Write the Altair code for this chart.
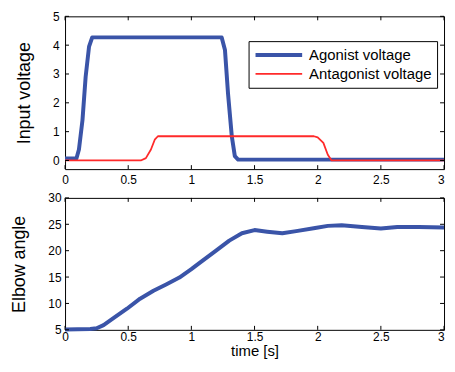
import altair as alt
import pandas as pd

# ---------------- data ----------------
series_names = ["Agonist voltage", "Antagonist voltage"]

t_agonist = [0, 0.09, 0.11, 0.138, 0.163, 0.19, 0.215, 0.6, 1.0, 1.24, 1.266, 1.29, 1.32, 1.344, 1.37, 2.0, 3.0]
v_agonist = [0.07, 0.07, 0.38, 1.4, 2.9, 3.95, 4.27, 4.27, 4.27, 4.27, 3.83, 2.33, 0.84, 0.15, 0.03, 0.03, 0.03]

t_antagonist = [0, 0.6, 0.64, 0.68, 0.71, 0.735, 1.3, 1.97, 2.0, 2.045, 2.08, 2.11, 3.0]
v_antagonist = [0, 0, 0.08, 0.38, 0.72, 0.84, 0.84, 0.84, 0.8, 0.61, 0.2, 0, 0]

t_elbow = [0, 0.1, 0.2, 0.25, 0.305, 0.383, 0.49, 0.594, 0.7, 0.8, 0.905, 1.0, 1.06,
           1.19, 1.3, 1.4, 1.5, 1.6, 1.72, 1.83, 1.98, 2.08, 2.19, 2.35, 2.5, 2.63, 2.8, 3.0]
v_elbow = [5.05, 5.1, 5.15, 5.3, 5.9, 7.2, 9.0, 10.9, 12.4, 13.6, 14.9, 16.5, 17.6,
           19.9, 21.9, 23.3, 23.9, 23.6, 23.3, 23.7, 24.3, 24.7, 24.8, 24.5, 24.2, 24.5, 24.5, 24.4]

x_ticks = [0, 0.5, 1, 1.5, 2, 2.5, 3]
y_ticks_top = [0, 1, 2, 3, 4, 5]
y_ticks_bottom = [5, 10, 15, 20, 25, 30]

# ---------------- style ----------------
BLUE = "#3a54a8"
RED = "#ff2a2a"
FONT = "Liberation Sans"
W = 382
H_TOP = 154
H_BOT = 133
TICK = 4

top_df = pd.concat([
    pd.DataFrame({"t": t_agonist, "v": v_agonist, "series": series_names[0]}),
    pd.DataFrame({"t": t_antagonist, "v": v_antagonist, "series": series_names[1]}),
], ignore_index=True)
elbow_df = pd.DataFrame({"t": t_elbow, "v": v_elbow})
xt_df = pd.DataFrame({"t": x_ticks})
yt_top_df = pd.DataFrame({"v": y_ticks_top})
yt_bot_df = pd.DataFrame({"v": y_ticks_bottom})

xs = alt.Scale(domain=[0, 3], nice=False, zero=False)
ys_top = alt.Scale(domain=[-0.3, 5], nice=False, zero=False)
ys_bot = alt.Scale(domain=[5, 30], nice=False, zero=False)

x_label_align = {"condition": {"test": "datum.value >= 3", "value": "right"}, "value": "center"}


def x_axis(title=None, pad=5):
    kw = dict(values=x_ticks, ticks=False, domain=False, grid=False, format="~g",
              labelFont=FONT, labelFontSize=12, labelColor="black", labelPadding=pad,
              labelFlush=False, labelOverlap=False, labelAlign=x_label_align)
    if title:
        kw.update(title=title, titleFont=FONT, titleFontSize=15, titleFontWeight="normal",
                  titleColor="black", titlePadding=1)
    else:
        kw.update(title=None)
    return alt.Axis(**kw)


def y_axis(values, title, title_x, pad):
    return alt.Axis(values=values, ticks=False, domain=False, grid=False, format="d",
                    labelFont=FONT, labelFontSize=12, labelColor="black", labelPadding=pad,
                    labelFlush=False, labelOverlap=False, labelBound=False,
                    title=title, titleFont=FONT, titleFontSize=18, titleFontWeight="normal",
                    titleColor="black", titleX=title_x, titleBaseline="middle")


legend_kw = dict(orient="none", legendX=185, legendY=25, title=None,
                 symbolType="stroke", symbolSize=2209, clipHeight=18,
                 labelFont=FONT, labelFontSize=15, labelColor="black", labelOffset=5,
                 padding=5, rowPadding=1, strokeColor="black", fillColor="white",
                 cornerRadius=0)


def panel(lines, yt_df, ys, h, xax, yax):
    xb = alt.Chart(xt_df).mark_rule(color="black", strokeWidth=1).encode(
        x=alt.X("t:Q", scale=xs, axis=xax), y=alt.value(h), y2=alt.value(h - TICK))
    xtp = alt.Chart(xt_df).mark_rule(color="black", strokeWidth=1).encode(
        x=alt.X("t:Q", scale=xs, axis=xax), y=alt.value(0), y2=alt.value(TICK))
    yl = alt.Chart(yt_df).mark_rule(color="black", strokeWidth=1).encode(
        y=alt.Y("v:Q", scale=ys, axis=yax), x=alt.value(0), x2=alt.value(TICK))
    yr = alt.Chart(yt_df).mark_rule(color="black", strokeWidth=1).encode(
        y=alt.Y("v:Q", scale=ys, axis=yax), x=alt.value(W), x2=alt.value(W - TICK))
    return alt.layer(lines, xb, xtp, yl, yr).properties(width=W, height=h)


xax_top = x_axis(pad=5)
yax_top = y_axis(y_ticks_top, "Input voltage", -41, 6)
lines_top = alt.Chart(top_df).mark_line(strokeJoin="round").encode(
    x=alt.X("t:Q", scale=xs, axis=xax_top),
    y=alt.Y("v:Q", scale=ys_top, axis=yax_top),
    color=alt.Color("series:N", scale=alt.Scale(domain=series_names, range=[BLUE, RED]),
                    legend=alt.Legend(**legend_kw)),
    strokeWidth=alt.StrokeWidth("series:N", scale=alt.Scale(domain=series_names, range=[4, 1.8]),
                                legend=alt.Legend(**legend_kw)),
)
top = panel(lines_top, yt_top_df, ys_top, H_TOP, xax_top, yax_top)

xax_bot = x_axis("time [s]", pad=2)
yax_bot = y_axis(y_ticks_bottom, "Elbow angle", -45.5, 4)
line_bot = alt.Chart(elbow_df).mark_line(color=BLUE, strokeWidth=4, strokeJoin="round").encode(
    x=alt.X("t:Q", scale=xs, axis=xax_bot),
    y=alt.Y("v:Q", scale=ys_bot, axis=yax_bot),
)
bottom = panel(line_bot, yt_bot_df, ys_bot, H_BOT, xax_bot, yax_bot)

chart = alt.vconcat(top, bottom, spacing=29, bounds="flush").properties(
    padding={"left": 1.5, "top": 0, "right": 0, "bottom": 0},
    background="white",
).configure_view(stroke="black", strokeWidth=1).configure_axis(labelOverlap=False)

chart.save("out.html", embed_options={"renderer": "svg", "actions": False})
